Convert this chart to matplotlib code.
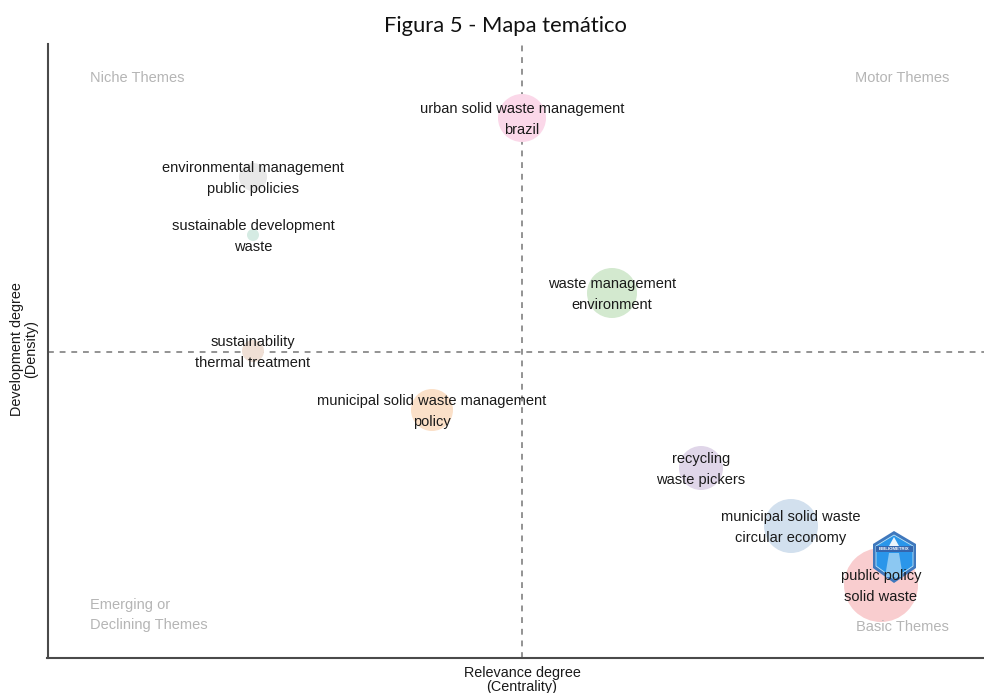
import matplotlib
matplotlib.use("Agg")
import matplotlib.pyplot as plt
from matplotlib.patches import Polygon

plt.rcParams['font.family'] = ['Liberation Sans', 'DejaVu Sans']

# axis units are just image pixels
labels = ["urban solid waste management\nbrazil", "environmental management\npublic policies",
          "sustainable development\nwaste", "waste management\nenvironment",
          "sustainability\nthermal treatment", "municipal solid waste management\npolicy",
          "recycling\nwaste pickers", "municipal solid waste\ncircular economy",
          "public policy\nsolid waste"]
centrality = [522, 253, 253, 612, 253, 432, 701, 791, 881]
density = [118, 177, 235, 293, 351, 410, 468, 526, 585]
radius = [24, 14, 6, 25, 11, 21, 22, 27, 37]
colors = ["#fbd8e9", "#e8e8e8", "#d5ebe3", "#d3e9cf", "#efdfd5", "#fbe0c8", "#e0d6e9", "#d2e0ee", "#f9cdcf"]

quadrants = ["Niche Themes", "Motor Themes", "Emerging or\nDeclining Themes", "Basic Themes"]
quad_x = [90, 949, 90, 949]
quad_y = [78, 78, 615, 627]
quad_ha = ["left", "right", "left", "right"]

mid_x = 522
mid_y = 351.5

logo_outer = [(894, 531), (916, 544), (916, 568), (894, 583), (873, 568), (873, 544)]
logo_inner = [(894, 535), (913, 546), (913, 566), (894, 579), (876, 566), (876, 546)]
logo_band = [(876, 546), (913, 546), (913, 552), (876, 552)]
logo_roof = [(894, 537), (899, 546), (889, 546)]
logo_tower = [(889, 553), (899, 553), (903, 577), (885, 577)]

fig = plt.figure(figsize=(9.84, 6.93), dpi=100)
ax = fig.add_axes([47.5/984, 1-658/693, 1-47.5/984, (658-44)/693])
ax.set_xlim(47.5, 984)
ax.set_ylim(658, 44)
ax.set_xticks([])
ax.set_yticks([])
for s in ["top", "right"]:
    ax.spines[s].set_visible(False)
for s in ["left", "bottom"]:
    ax.spines[s].set_linewidth(1.5)
    ax.spines[s].set_color("#4a4a4a")

ax.axvline(mid_x, color="#808080", ls=(0, (3.5, 3.5)), lw=1.2, zorder=1)
ax.axhline(mid_y, color="#808080", ls=(0, (3.5, 3.5)), lw=1.2, zorder=1)

# pixel radius -> marker area in points^2
sizes = [(2*r*72/100)**2 for r in radius]
ax.scatter(centrality, density, s=sizes, c=colors, linewidths=0, zorder=2)

ax.add_patch(Polygon(logo_outer, closed=True, fc="#3f78bd", ec="none", zorder=3))
ax.add_patch(Polygon(logo_inner, closed=True, fc="#2a96ea", ec="#bfe6f7", lw=0.6, zorder=3))
ax.add_patch(Polygon(logo_roof, closed=True, fc="#eaf4fb", ec="none", zorder=3))
ax.add_patch(Polygon(logo_band, closed=True, fc="#3566ad", ec="none", zorder=3))
ax.add_patch(Polygon(logo_tower, closed=True, fc="#8cc8f2", ec="none", zorder=3))
ax.text(894, 549, "BIBLIOMETRIX", fontsize=3.2, color="white", weight="bold", ha="center", va="center", zorder=4)

for q, x, y, ha in zip(quadrants, quad_x, quad_y, quad_ha):
    ax.text(x, y, q, color="#b5b5b5", fontsize=10.5, ha=ha, va="center", linespacing=1.63, zorder=5)

for lab, x, y in zip(labels, centrality, density):
    ax.text(x, y + 1.5, lab, color="#1a1a1a", fontsize=10.5, ha="center", va="center", linespacing=1.63, zorder=5)

fig.text(505/984, 1-26/693, "Figura 5 - Mapa temático", fontsize=15.8, family=["Lato", "DejaVu Sans"],
         ha="center", va="center", color="#111111")
fig.text(522/984, 1-680/693, "Relevance degree\n(Centrality)", fontsize=10.4, ha="center", va="center", linespacing=0.95, color="#1a1a1a")
fig.text(24/984, 1-349/693, "Development degree\n(Density)", fontsize=10.4, rotation=90, ha="center", va="center", linespacing=0.95, color="#1a1a1a")

fig.savefig("out.png", dpi=100)
